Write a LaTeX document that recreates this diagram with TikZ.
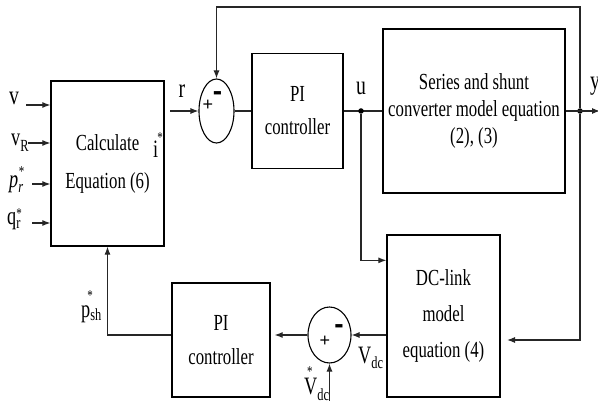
\documentclass[tikz,border=0pt]{standalone}
\usepackage{fontspec}
\setmainfont{Liberation Serif}[FakeStretch=0.73]
\newfontfamily\signfont{Liberation Sans}
\usetikzlibrary{arrows.meta,shapes.geometric}

\newcommand{\sigfont}{\fontsize{25}{25}\selectfont}
\newcommand{\bigsig}{\fontsize{27}{27}\selectfont}
\newcommand{\subf}[2]{\raisebox{#1}{\fontsize{17}{17}\selectfont #2}}
\newcommand{\topstar}[2]{\makebox[0pt][l]{\hspace*{#1}\raisebox{#2}{\fontsize{15}{15}\selectfont *}}}

\begin{document}
\begin{tikzpicture}[x=1pt, y=-1pt,
    block/.style={rectangle, draw=black, line width=1.3pt, inner sep=0pt, align=center},
    sumnode/.style={ellipse, draw=black, line width=1.1pt, inner sep=0pt},
    wire/.style={line width=1.1pt, black!85},
    arr/.style={wire, -{Latex[length=8pt,width=6pt]}},
    sig/.style={font=\sigfont, inner sep=0pt, anchor=base west},
    sign/.style={inner sep=0pt},
    junc/.style={circle, fill=black, inner sep=0pt, minimum size=5.5pt}
]
\useasboundingbox (0,0) rectangle (598,401);

% ---- blocks ----
\node[block, minimum width=113pt, minimum height=165pt, font=\fontsize{23}{38}\selectfont] (calc) at (107.5,163.5) {Calculate\\Equation (6)};
\node[sumnode, minimum width=35pt, minimum height=64pt] (sumr) at (216.5,111) {};
\node[block, minimum width=91pt, minimum height=115pt, font=\fontsize{23}{33}\selectfont] (pir) at (297.5,111) {PI\\controller};
\node[block, minimum width=182pt, minimum height=164pt, font=\fontsize{23}{27}\selectfont] (conv) at (474,111) {Series and shunt\\converter model equation\\(2), (3)};
\node[block, minimum width=113pt, minimum height=162pt, font=\fontsize{23}{36}\selectfont] (dclink) at (443.5,316) {DC-link\\model\\equation (4)};
\node[sumnode, minimum width=43pt, minimum height=56pt] (sumdc) at (329.5,335) {};
\node[block, minimum width=98pt, minimum height=114pt, font=\fontsize{23}{34}\selectfont] (pidc) at (221,340) {PI\\controller};

% ---- signs ----
\node[sign, font=\signfont\fontsize{18}{18}\selectfont] (plr) at (208,105) {+};
\node[sign, font=\signfont\bfseries\fontsize{28}{28}\selectfont] (mnr) at (217.5,96) {-};
\node[sign, font=\signfont\fontsize{18}{18}\selectfont] (pldc) at (325,341) {+};
\node[sign, font=\signfont\bfseries\fontsize{28}{28}\selectfont] (mndc) at (339,329) {-};

% ---- inputs ----
\foreach \n/\xx/\yy in {v/26/105, vr/28/143, pr/32/184, qr/32/223}{
  \coordinate (in\n) at (\xx,\yy);
  \draw[arr] (in\n) -- (in\n -| calc.west);
}
\node[sig, font=\bigsig] (lv) at (9,105) {v};
\node[sig] (lvr) at (11,146) {v\subf{-6pt}{R}};
\node[sig] (lpr) at (9,188) {\itshape p\topstar{0pt}{11pt}\subf{-5pt}{r}};
\node[sig] (lqr) at (7,225) {q\topstar{0pt}{6pt}\subf{-4pt}{r}};
\node[sig] (li) at (153,158) {i\topstar{-1pt}{15pt}};

% ---- upper loop ----
\coordinate (rin) at (170,111);
\draw[arr] (rin) -- (sumr.west);
\node[sig, font=\bigsig, anchor=base] (lr) at (182,98) {r};
\draw[wire] (sumr.east) -- (pir.west);
\draw[wire] (pir.east) -- (conv.west);
\node[junc] (ju) at (361,111) {};
\node[sig, font=\bigsig, anchor=base] (lu) at (361,95) {u};
\draw[arr] (ju) |- ([yshift=-26pt]dclink.north west);

\node[junc] (jy) at (580,111) {};
\coordinate (yout) at (600,111);
\draw[arr] (conv.east) -- (yout);
\node[sig, font=\bigsig, anchor=base] (ly) at (595,90) {y};
\coordinate (fbtop) at (580,7);
\draw[arr] (jy) -- (fbtop) -| (sumr.north);
\coordinate (fbdc) at (507,340);
\draw[arr] (jy) |- (fbdc);

% ---- lower loop ----
\draw[arr] (dclink.west |- sumdc) -- (sumdc.east);
\node[sig] (lvdc) at (358,363) {V\subf{-5pt}{dc}};
\draw[arr, shorten >=4pt] (sumdc.west) -- (pidc.east |- sumdc);
\draw[arr] (pidc.west |- sumdc) -| (calc.south);
\node[sig] (lpsh) at (81,317) {p\topstar{-3pt}{17pt}\subf{-3pt}{sh}};
\coordinate (vref) at (329.5,405);
\draw[arr] (vref) -- (sumdc.south);
\node[sig] (lvref) at (304,395) {\topstar{3pt}{18pt}V\subf{-6pt}{dc}};

\end{tikzpicture}
\end{document}
